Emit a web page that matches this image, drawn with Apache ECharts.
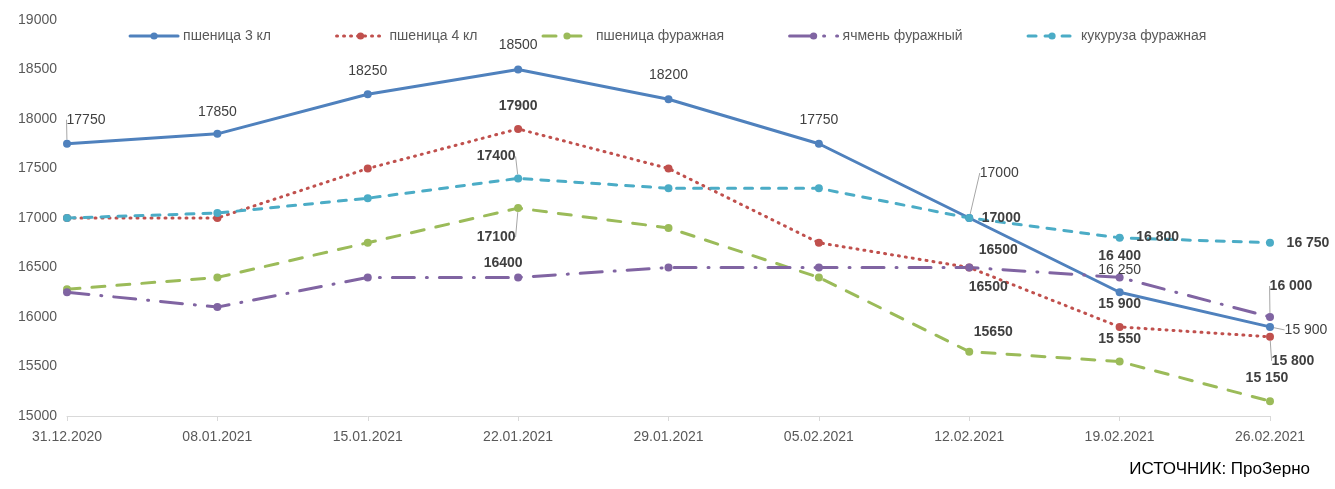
<!DOCTYPE html>
<html>
<head>
<meta charset="utf-8">
<script src="https://cdn.jsdelivr.net/npm/echarts@6/dist/echarts.min.js"></script>
<style>
  html, body { margin: 0; padding: 0; background: #fff; }
  #chart { width: 1335px; height: 489px; }
</style>
</head>
<body>
<div id="chart"></div>
<script>
// даты наблюдений
const dates = ['31.12.2020', '08.01.2021', '15.01.2021', '22.01.2021', '29.01.2021',
  '05.02.2021', '12.02.2021', '19.02.2021', '26.02.2021']

// цены, руб/т
const wheat3 = [17750, 17850, 18250, 18500, 18200, 17750, 17000, 16250, 15900]
const wheat4 = [17000, 17000, 17500, 17900, 17500, 16750, 16500, 15900, 15800]
const wheatFeed = [16280, 16400, 16750, 17100, 16900, 16400, 15650, 15550, 15150]
const barleyFeed = [16250, 16100, 16400, 16400, 16500, 16500, 16500, 16400, 16000]
const cornFeed = [17000, 17050, 17200, 17400, 17300, 17300, 17000, 16800, 16750]

const yTicks = [15000, 15500, 16000, 16500, 17000, 17500, 18000, 18500, 19000]

// сдвиг подписи относительно точки [dx, dy, выноска]
const labelOffsets = {
  wheat3: { 0: [19, -24, true], 1: [0, -22], 2: [0, -23], 3: [0, -24], 4: [0, -24], 5: [0, -24],
    6: [30, -45, true], 7: [0, -22], 8: [36, 3, true] },
  wheat4: { 3: [0, -23], 6: [19, 20], 7: [0, -23], 8: [23, 24, true] },
  wheatFeed: { 3: [-22, 29, true], 6: [24, -20], 7: [0, -22], 8: [-3, -23] },
  barleyFeed: { 3: [-15, -14], 6: [29, -17], 7: [0, -21], 8: [21, -31, true] },
  cornFeed: { 3: [-22, -22, true], 6: [32, 0], 7: [38, -1], 8: [38, 0] }
}

const fmt = (v, i) => i >= 7 ? String(v).replace(/\B(?=(\d{3})+(?!\d))/g, ' ') : String(v)

const makeSeries = (name, key, values, color, lineType, bold) => {
  const offs = labelOffsets[key]
  return {
    name: name,
    type: 'line',
    data: values.map((v, i) => ({
      value: v,
      label: { show: offs[i] !== undefined, formatter: fmt(v, i) },
      labelLine: { show: !!(offs[i] && offs[i][2]) }
    })),
    symbol: 'circle',
    symbolSize: 8,
    lineStyle: { color: color, width: 3, type: lineType, cap: 'round' },
    itemStyle: { color: color },
    label: {
      position: 'inside',
      color: '#404040',
      fontSize: 14,
      fontWeight: bold ? 'bold' : 'normal',
      fontFamily: 'Liberation Sans'
    },
    labelLine: { lineStyle: { color: '#a6a6a6', width: 1 } },
    labelLayout: (p) => {
      const o = offs[p.dataIndex]
      return o ? { dx: o[0], dy: o[1] } : {}
    },
    emphasis: { disabled: true },
    z: 2
  }
}

const chart = echarts.init(document.getElementById('chart'))

chart.setOption({
  animation: false,
  textStyle: { fontFamily: 'Liberation Sans' },
  legend: {
    top: 24,
    left: 'center',
    itemGap: 64,
    itemWidth: 48,
    itemHeight: 9,
    lineStyle: { width: 3 },
    textStyle: { color: '#595959', fontSize: 14 },
    data: ['пшеница 3 кл', 'пшеница 4 кл', 'пшеница фуражная', 'ячмень фуражный', 'кукуруза фуражная']
  },
  grid: { left: 67, right: 65, top: 20, bottom: 73 },
  xAxis: {
    type: 'category',
    boundaryGap: false,
    data: dates,
    axisLine: { lineStyle: { color: '#d9d9d9' } },
    axisTick: { show: true, alignWithLabel: true, length: 5, lineStyle: { color: '#d9d9d9' } },
    axisLabel: { color: '#595959', fontSize: 14, margin: 14 }
  },
  yAxis: {
    type: 'value',
    min: yTicks[0],
    max: yTicks[yTicks.length - 1],
    interval: 500,
    splitLine: { show: false },
    axisLine: { show: false },
    axisLabel: { color: '#595959', fontSize: 14, margin: 10, formatter: (v) => String(v) }
  },
  graphic: [{
    type: 'text',
    right: 25,
    top: 461,
    style: { text: 'ИСТОЧНИК: ПроЗерно', fill: '#000', font: '17px "Liberation Sans"' }
  }],
  series: [
    makeSeries('пшеница 3 кл', 'wheat3', wheat3, '#4F81BD', 'solid', false),
    makeSeries('пшеница 4 кл', 'wheat4', wheat4, '#C0504D', [1, 6], true),
    makeSeries('пшеница фуражная', 'wheatFeed', wheatFeed, '#9BBB59', [13, 12], true),
    makeSeries('ячмень фуражный', 'barleyFeed', barleyFeed, '#8064A2', [22, 12, 1, 12], true),
    makeSeries('кукуруза фуражная', 'cornFeed', cornFeed, '#4BACC6', [8, 9], true)
  ]
})
</script>
</body>
</html>
